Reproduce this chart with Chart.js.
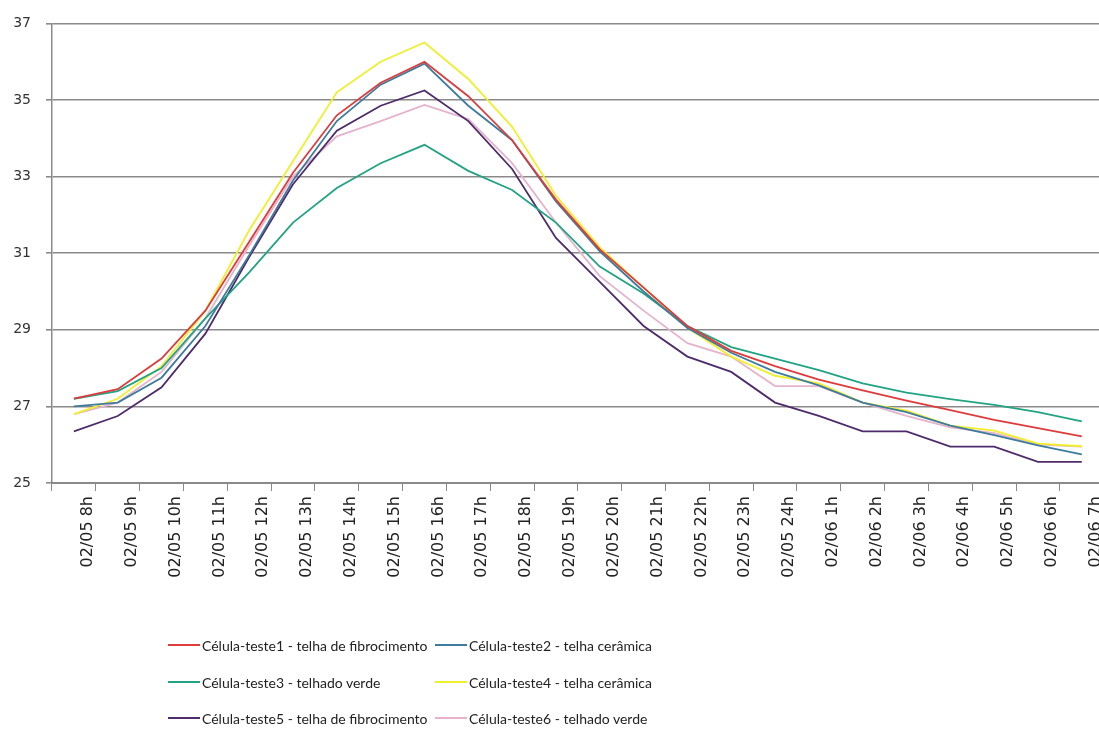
<!DOCTYPE html>
<html><head><meta charset="utf-8">
<script src="https://cdn.jsdelivr.net/npm/chart.js@4.4.1/dist/chart.umd.min.js"></script>
<style>
html,body{margin:0;padding:0;background:#fff;overflow:hidden;width:1099px;height:734px;}
#wrap{position:absolute;left:0;top:0;width:1099px;height:734px;overflow:hidden;background:#fff;}
#c{position:absolute;left:0;top:0;}
.item{position:absolute;display:flex;align-items:center;height:22px;margin-top:-11px;font-family:Lato,"Open Sans",sans-serif;font-size:14px;color:#222;white-space:nowrap;}
.swatch{width:32px;height:2px;margin-right:2px;}
</style></head><body>
<div id="wrap"><canvas id="c" width="1106" height="734"></canvas><div id="legend"></div></div>
<script>
const categories = ["02/05 8h","02/05 9h","02/05 10h","02/05 11h","02/05 12h","02/05 13h","02/05 14h","02/05 15h","02/05 16h","02/05 17h","02/05 18h","02/05 19h","02/05 20h","02/05 21h","02/05 22h","02/05 23h","02/05 24h","02/06 1h","02/06 2h","02/06 3h","02/06 4h","02/06 5h","02/06 6h","02/06 7h"];
const celula1 = [27.2,27.45,28.25,29.5,31.3,33.1,34.6,35.45,36.0,35.1,33.95,32.4,31.1,30.1,29.1,28.45,28.05,27.7,27.42,27.15,26.9,26.65,26.43,26.22];
const celula2 = [27.0,27.1,27.75,29.1,30.95,32.9,34.45,35.4,35.95,34.85,33.95,32.35,31.05,30.0,29.05,28.4,27.9,27.55,27.1,26.85,26.5,26.25,25.98,25.75];
const celula3 = [27.2,27.4,28.0,29.3,30.5,31.8,32.7,33.35,33.83,33.15,32.65,31.8,30.65,29.95,29.1,28.55,28.25,27.95,27.6,27.36,27.19,27.04,26.85,26.61];
const celula4 = [26.8,27.2,28.05,29.5,31.6,33.4,35.2,36.0,36.5,35.55,34.3,32.5,31.15,30.1,29.05,28.3,27.8,27.6,27.1,26.89,26.5,26.37,26.03,25.96];
const celula5 = [26.35,26.75,27.5,28.9,30.9,32.8,34.2,34.85,35.25,34.45,33.2,31.4,30.25,29.1,28.3,27.9,27.1,26.75,26.35,26.35,25.95,25.95,25.55,25.55];
const celula6 = [26.8,27.1,27.9,29.3,31.2,33.0,34.05,34.45,34.87,34.5,33.35,31.8,30.4,29.5,28.65,28.3,27.53,27.53,27.1,26.75,26.45,26.3,26.0,25.95];
const seriesNames = ["Célula-teste1 - telha de fibrocimento","Célula-teste2 - telha cerâmica","Célula-teste3 - telhado verde","Célula-teste4 - telha cerâmica","Célula-teste5 - telha de fibrocimento","Célula-teste6 - telhado verde"];
const seriesColors = ["#de3b3b","#3d7c9e","#22a383","#f0ef2c","#4e2c6c","#e6b2cc"];
const yMin = 25, yMax = 37, yStep = 2;

const seriesData = [celula1,celula2,celula3,celula4,celula5,celula6];
const datasets = seriesData.map((d,i)=>({
  label: seriesNames[i], data: d, borderColor: seriesColors[i], backgroundColor: seriesColors[i],
  borderWidth: 1.8, pointRadius: 0, tension: 0, fill: false
}));

const chart = new Chart(document.getElementById('c'), {
  type: 'line',
  data: { labels: categories, datasets: datasets },
  options: {
    responsive: false, animation: false,
    layout: { padding: { top: 19, left: 0, right: 0, bottom: 0 } },
    plugins: { legend: { display: false }, tooltip: { enabled: false } },
    scales: {
      x: {
        offset: true,
        afterFit: s => { s.height = 251; },
        grid: { drawOnChartArea: false, drawTicks: true, tickLength: 8, offset: true, color: '#8a8a8a', lineWidth: 1 },
        border: { display: true, color: '#8a8a8a', width: 2 },
        ticks: { autoSkip: false, maxRotation: 90, minRotation: 90, padding: 5, labelOffset: 14,
          color: '#222', font: { family: '"DejaVu Sans"', size: 16 } }
      },
      y: {
        min: yMin, max: yMax,
        afterFit: s => { s.width = 52; },
        grid: { color: '#8a8a8a', lineWidth: 1.6, drawTicks: true, tickLength: 6 },
        border: { display: true, color: '#8a8a8a', width: 1.5 },
        ticks: { stepSize: yStep, padding: 15, color: '#333', font: { family: '"DejaVu Sans"', size: 14 } }
      }
    }
  }
});

// HTML legend built from the chart datasets (2 columns x 3 rows)
const colX = [168, 435];
const rowY = [645, 682, 718];
const leg = document.getElementById('legend');
chart.data.datasets.forEach((ds, i) => {
  const el = document.createElement('div');
  el.className = 'item';
  el.style.left = colX[i % 2] + 'px';
  el.style.top = rowY[Math.floor(i / 2)] + 'px';
  const sw = document.createElement('span');
  sw.className = 'swatch'; sw.style.background = ds.borderColor;
  const tx = document.createElement('span');
  tx.textContent = ds.label;
  el.appendChild(sw); el.appendChild(tx);
  leg.appendChild(el);
});
</script>
</body></html>
